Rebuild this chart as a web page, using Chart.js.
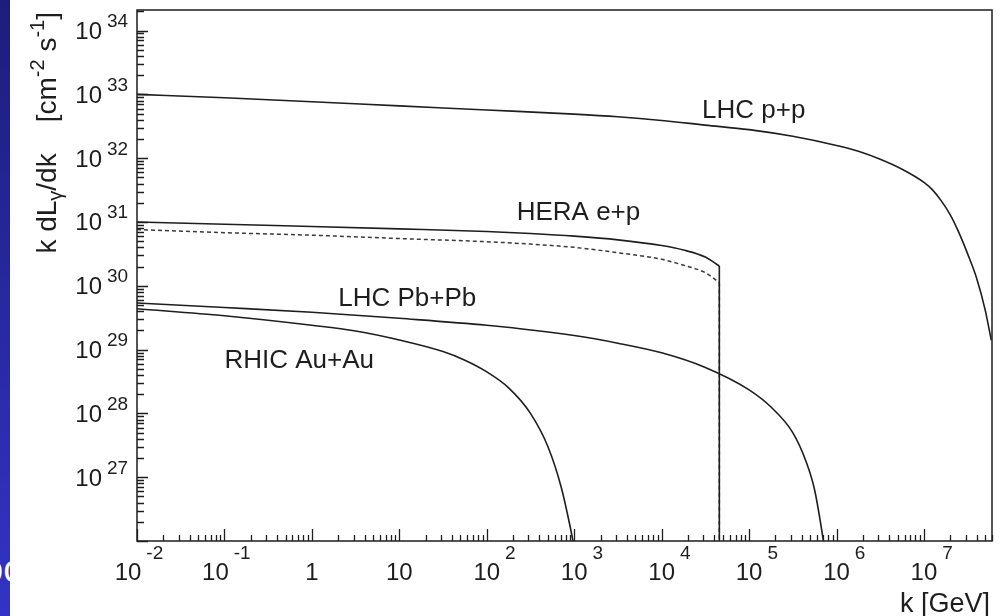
<!DOCTYPE html>
<html>
<head>
<meta charset="utf-8">
<script src="https://cdn.jsdelivr.net/npm/chart.js@4.4.0/dist/chart.umd.min.js"></script>
<style>
  html, body { margin: 0; padding: 0; background: #fff; }
  #wrap { position: relative; width: 1005px; height: 616px; overflow: hidden; background: #fff; }
  #strip { position: absolute; left: 0; top: 0; width: 10px; height: 616px; z-index: 2;
           background: linear-gradient(#1d1d7c, #3333c6); overflow: hidden; }
  #strip span { position: absolute; left: -18px; top: 548px; color: #fff;
                font: 38px 'Liberation Sans', Arial, sans-serif; }
  canvas { position: absolute; left: 0; top: 0; }
</style>
</head>
<body>
<div id="wrap">
  <div id="strip"><span>oc</span></div>
  <canvas id="chart" width="1005" height="616"></canvas>
</div>
<script>
// photon luminosity k dL/dk vs photon energy k (GeV)
const ppK = [0.01, 0.1, 1, 10, 100, 1e3, 3.16e3, 1e4, 3.16e4, 1e5, 3.16e5, 1e6, 1.78e6, 3.16e6, 5.62e6, 1e7, 1.26e7, 1.58e7, 2.0e7, 2.51e7, 3.16e7, 3.98e7, 5.01e7, 5.89e7];
const ppL = [1.0e33, 8.85e32, 7.66e32, 6.6e32, 5.7e32, 4.9e32, 4.45e32, 3.9e32, 3.3e32, 2.8e32, 2.2e32, 1.58e32, 1.28e32, 9.6e31, 6.7e31, 4.17e31, 3.16e31, 2.14e31, 1.29e31, 6.8e30, 3.16e30, 1.35e30, 4.2e29, 1.4e29];

const heraK = [0.01, 0.1, 1, 10, 100, 316, 1e3, 3.16e3, 1e4, 1.78e4, 3.16e4, 4.57e4];
const heraL = [1.0e31, 9.2e30, 8.5e30, 7.8e30, 7.1e30, 6.6e30, 6.0e30, 5.25e30, 4.27e30, 3.63e30, 2.82e30, 2.04e30];
const heraDashL = [7.6e30, 6.8e30, 6.2e30, 5.5e30, 4.9e30, 4.5e30, 4.0e30, 3.3e30, 2.6e30, 2.1e30, 1.6e30, 1.12e30];
// HERA kinematic limit: both curves drop straight down
const heraEdgeK = [4.57e4, 4.57e4];
const heraEdgeL = [2.04e30, 1e25];
const heraDashEdgeL = [1.12e30, 1e25];

const pbK = [0.01, 0.1, 1, 10, 100, 1e3, 3.16e3, 1e4, 3.16e4, 1e5, 1.78e5, 3.16e5, 4.47e5, 5.62e5, 7.08e5, 7.94e5];
const pbL = [5.37e29, 4.57e29, 3.85e29, 3.09e29, 2.4e29, 1.66e29, 1.26e29, 8.9e28, 5.25e28, 2.34e28, 1.26e28, 5.0e27, 1.78e27, 6.3e26, 1e26, 3.2e25];

const auK = [0.01, 0.1, 1, 3.16, 10, 31.6, 56.2, 100, 178, 316, 501, 708, 891, 1000];
const auL = [4.37e29, 3.39e29, 2.4e29, 1.95e29, 1.41e29, 9.3e28, 6.8e28, 4.47e28, 2.51e28, 1e28, 3.0e27, 7.1e26, 1.78e26, 7.9e25];

// curve labels, anchored in data space (left end of baseline)
const curveNames = ['LHC p+p', 'HERA e+p', 'LHC Pb+Pb', 'RHIC Au+Au'];
const nameK = [2.9e4, 220, 2.0, 0.1];
const nameL = [4.2e32, 1.07e31, 4.9e29, 5.1e28];

const xDecades = [-2, -1, 0, 1, 2, 3, 4, 5, 6, 7];
const yDecades = [27, 28, 29, 30, 31, 32, 33, 34];

function pts(ks, ls) {
    return ks.map((k, i) => ({ x: k, y: ls[i] }));
}

const FONT = "'Liberation Sans', Arial, Helvetica, sans-serif";
const INK = '#1e1e1e';

// "10" with a raised exponent, ROOT style
function powerLabel(ctx, exp, px, py, axis) {
    ctx.fillStyle = INK;
    ctx.textBaseline = 'alphabetic';
    if (axis === 'x' && (exp === 0 || exp === 1)) {
        ctx.font = '24px ' + FONT;
        ctx.textAlign = 'center';
        ctx.fillText(exp === 0 ? '1' : '10', px, py);
        return;
    }
    ctx.font = '24px ' + FONT;
    const baseW = ctx.measureText('10').width;
    const expStr = exp < 0 ? '-' + Math.abs(exp) : String(exp);
    let left, raise;
    if (axis === 'x') {
        left = px - baseW / 2 - (exp < 0 ? 9 : 0);
        raise = 21;
    } else {
        left = px - baseW;
        raise = 12;
    }
    ctx.textAlign = 'left';
    ctx.fillText('10', left, py);
    ctx.font = '19px ' + FONT;
    ctx.fillText(expStr, left + baseW + 5, py - raise);
}

// rich text run: segments of [text, size, raise]
function richRun(ctx, segs, x, y) {
    let cx = x;
    segs.forEach(s => {
        ctx.font = s[1] + 'px ' + FONT;
        ctx.fillText(s[0], cx, y - s[2]);
        cx += ctx.measureText(s[0]).width;
    });
    return cx - x;
}

function runWidth(ctx, segs) {
    let w = 0;
    segs.forEach(s => {
        ctx.font = s[1] + 'px ' + FONT;
        w += ctx.measureText(s[0]).width;
    });
    return w;
}

const rootStyle = {
    id: 'rootStyle',
    afterDraw(chart) {
        const { ctx, chartArea: a, scales: { x, y } } = chart;
        ctx.save();

        // frame
        ctx.strokeStyle = INK;
        ctx.lineWidth = 1.5;
        ctx.strokeRect(a.left, a.top, a.right - a.left, a.bottom - a.top);

        // x ticks (inward from bottom)
        ctx.lineWidth = 1.3;
        ctx.beginPath();
        for (let d = -2; d <= 7; d++) {
            for (let m = 1; m <= 9; m++) {
                const v = m * Math.pow(10, d);
                if (v > x.max) break;
                const px = Math.round(x.getPixelForValue(v)) + 0.5;
                const len = m === 1 ? 12 : 6;
                ctx.moveTo(px, a.bottom);
                ctx.lineTo(px, a.bottom - len);
            }
        }
        // y ticks (inward from left)
        for (let d = 26; d <= 34; d++) {
            for (let m = 1; m <= 9; m++) {
                const v = m * Math.pow(10, d);
                if (v > y.max) break;
                if (v < y.min) continue;
                const py = Math.round(y.getPixelForValue(v)) + 0.5;
                const len = m === 1 ? 11 : 7;
                ctx.moveTo(a.left, py);
                ctx.lineTo(a.left + len, py);
            }
        }
        ctx.stroke();

        // tick labels
        xDecades.forEach(d => {
            powerLabel(ctx, d, x.getPixelForValue(Math.pow(10, d)), a.bottom + 39, 'x');
        });
        yDecades.forEach(d => {
            powerLabel(ctx, d, a.left - 35, y.getPixelForValue(Math.pow(10, d)) + 8.5, 'y');
        });

        // curve names
        ctx.textAlign = 'left';
        ctx.font = '26px ' + FONT;
        curveNames.forEach((n, i) => {
            ctx.fillText(n, x.getPixelForValue(nameK[i]), y.getPixelForValue(nameL[i]));
        });

        // x title
        ctx.textAlign = 'right';
        ctx.font = '27px ' + FONT;
        ctx.fillText('k [GeV]', a.right - 2, 612);

        // y title, rotated, right-aligned at the top of the axis
        const segs = [
            ['k dL', 28, 0], ['\u03b3', 20, -6], ['/dk    [cm', 28, 0],
            ['-2', 20, 12], [' s', 28, 0], ['-1', 20, 12], [']', 28, 0]
        ];
        const w = runWidth(ctx, segs);
        ctx.translate(56, 12 + w);
        ctx.rotate(-Math.PI / 2);
        ctx.textAlign = 'left';
        richRun(ctx, segs, 0, 0);

        ctx.restore();
    }
};

const lineStyle = { borderColor: INK, borderWidth: 1.6, pointRadius: 0, fill: false, cubicInterpolationMode: 'monotone' };
const dashStyle = { borderColor: '#3a3a3a', borderWidth: 1.5, borderDash: [4, 3] };

new Chart(document.getElementById('chart'), {
    type: 'line',
    data: {
        datasets: [
            Object.assign({ label: 'LHC p+p', data: pts(ppK, ppL) }, lineStyle),
            Object.assign({ label: 'HERA e+p', data: pts(heraK, heraL) }, lineStyle),
            Object.assign({ label: 'HERA e+p edge', data: pts(heraEdgeK, heraEdgeL) }, lineStyle),
            Object.assign({ label: 'HERA e+p (dashed)', data: pts(heraK, heraDashL) }, lineStyle, dashStyle),
            Object.assign({ label: 'HERA e+p (dashed) edge', data: pts(heraEdgeK, heraDashEdgeL) }, lineStyle, dashStyle),
            Object.assign({ label: 'LHC Pb+Pb', data: pts(pbK, pbL) }, lineStyle),
            Object.assign({ label: 'RHIC Au+Au', data: pts(auK, auL) }, lineStyle)
        ]
    },
    options: {
        responsive: false,
        animation: false,
        layout: { padding: { left: 137, top: 10, right: 13, bottom: 75 } },
        plugins: { legend: { display: false }, tooltip: { enabled: false } },
        scales: {
            x: { type: 'logarithmic', min: 0.01, max: 6e7, display: false },
            y: { type: 'logarithmic', min: 1e26, max: 2.1e34, display: false }
        }
    },
    plugins: [rootStyle]
});
</script>
</body>
</html>
